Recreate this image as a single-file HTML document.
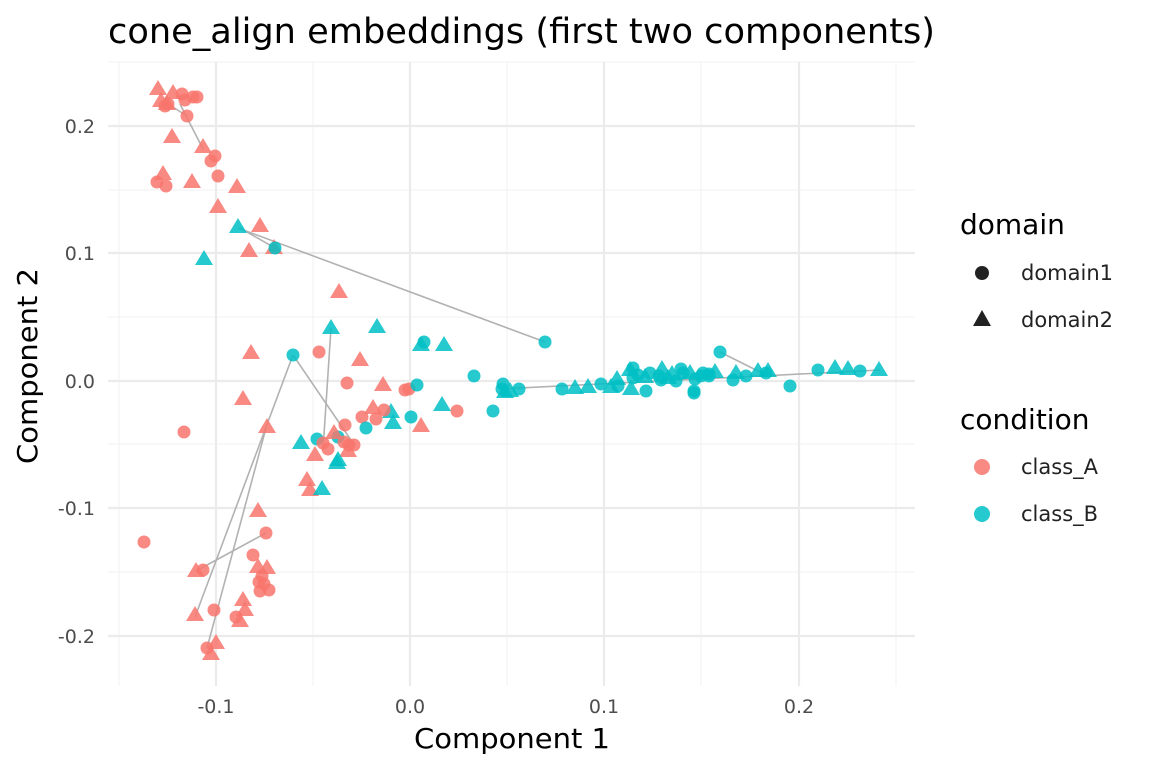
<!DOCTYPE html>
<html><head><meta charset="utf-8"><style>
body{margin:0;background:#fff;}
svg{display:block;font-family:"DejaVu Sans","Liberation Sans",sans-serif;}
</style></head><body>
<svg id="s" width="1152" height="768" viewBox="0 0 1152 768" xmlns="http://www.w3.org/2000/svg">
<rect width="1152" height="768" fill="#fff"/>
<g stroke="#f2f2f2" stroke-width="1.1">
<line x1="119" y1="62" x2="119" y2="686"/><line x1="313" y1="62" x2="313" y2="686"/><line x1="507" y1="62" x2="507" y2="686"/><line x1="701" y1="62" x2="701" y2="686"/><line x1="896" y1="62" x2="896" y2="686"/>
<line x1="108" y1="62" x2="915" y2="62"/><line x1="108" y1="190" x2="915" y2="190"/><line x1="108" y1="317" x2="915" y2="317"/><line x1="108" y1="444" x2="915" y2="444"/><line x1="108" y1="572" x2="915" y2="572"/>
</g>
<g stroke="#ebebeb" stroke-width="2.2">
<line x1="216" y1="62" x2="216" y2="686"/><line x1="410" y1="62" x2="410" y2="686"/><line x1="604" y1="62" x2="604" y2="686"/><line x1="799" y1="62" x2="799" y2="686"/>
<line x1="108" y1="126" x2="915" y2="126"/><line x1="108" y1="253" x2="915" y2="253"/><line x1="108" y1="381" x2="915" y2="381"/><line x1="108" y1="508" x2="915" y2="508"/><line x1="108" y1="636" x2="915" y2="636"/>
</g>
<g stroke="#aaa" stroke-width="1.6" opacity="0.9">
<line x1="168" y1="104" x2="187" y2="116"/><line x1="180" y1="104" x2="203" y2="149"/>
<line x1="238" y1="228" x2="545" y2="342"/><line x1="240" y1="228" x2="275" y2="248"/>
<line x1="293" y1="355" x2="195" y2="617"/><line x1="293" y1="355" x2="355" y2="446"/>
<line x1="331" y1="328" x2="323" y2="450"/><line x1="266" y1="428" x2="207" y2="648"/>
<line x1="266" y1="533" x2="196" y2="571"/>
<line x1="500" y1="389" x2="880" y2="370"/><line x1="720" y1="352" x2="762" y2="373"/>
</g>
<g id="pts"></g>
<text x="108" y="43" font-size="35" fill="#000" textLength="827" lengthAdjust="spacingAndGlyphs">cone_align embeddings (first two components)</text>
<g font-size="19" fill="#4d4d4d" text-anchor="middle">
<text x="216" y="713">-0.1</text><text x="410" y="713">0.0</text><text x="604" y="713">0.1</text><text x="799" y="713">0.2</text>
</g>
<g font-size="19" fill="#4d4d4d" text-anchor="end">
<text x="95" y="133">0.2</text><text x="95" y="260">0.1</text><text x="95" y="388">0.0</text><text x="95" y="515">-0.1</text><text x="95" y="643">-0.2</text>
</g>
<text x="512" y="748" font-size="28" text-anchor="middle" textLength="196" lengthAdjust="spacingAndGlyphs">Component 1</text>
<text transform="translate(37,366) rotate(-90)" font-size="28" text-anchor="middle" textLength="196" lengthAdjust="spacingAndGlyphs">Component 2</text>
<text x="960" y="234" font-size="28">domain</text>
<circle cx="982" cy="273" r="7" fill="#222"/>
<polygon points="982,310 991,326 973,326" fill="#222"/>
<text x="1021" y="280" font-size="21" fill="#222">domain1</text>
<text x="1021" y="327" font-size="21" fill="#222">domain2</text>
<text x="960" y="429" font-size="28">condition</text>
<circle cx="982" cy="467" r="8" fill="#F8766D" opacity="0.85"/>
<circle cx="982" cy="514" r="8" fill="#00BFC4" opacity="0.85"/>
<text x="1021" y="474" font-size="21" fill="#222">class_A</text>
<text x="1021" y="521" font-size="21" fill="#222">class_B</text>
</svg>
<script>
var R="#F8766D",T="#00BFC4";
var P=[
["t",R,158,89],["t",R,173,93],["t",R,161,101],["t",R,167,104],["c",R,182,94],["c",R,193,97],["c",R,197,97],["c",R,185,100],["c",R,168,104],["c",R,165,106],["c",R,187,116],
["t",R,172,137],["t",R,203,147],["c",R,215,156],["c",R,211,161],["c",R,218,176],["c",R,157,182],["c",R,166,186],["t",R,163,174],["t",R,192,182],["t",R,237,187],
["t",R,218,207],["t",R,260,226],["t",R,249,251],["t",R,274,248],["t",T,238,227],["c",T,275,248],["t",T,204,259],
["t",R,339,292],["c",T,293,355],["c",R,319,352],["t",R,251,353],["t",R,360,360],["t",T,331,328],["t",T,377,327],["t",T,421,345],["c",T,424,342],["t",T,444,345],["c",T,545,342],
["c",R,347,383],["t",R,383,385],["c",R,405,390],["c",R,409,389],["c",T,417,385],["t",R,243,399],["c",T,474,376],["c",T,503,384],["c",T,502,389],["t",T,505,392],["t",T,510,391],["c",T,519,389],["c",T,493,411],["c",R,457,411],["t",T,442,405],["t",T,391,412],["t",T,393,423],["c",R,384,410],["t",R,373,408],["c",R,362,417],["c",R,376,419],["c",R,345,425],["c",T,338,437],["t",R,334,433],["c",T,366,428],["t",R,421,426],["c",T,411,417],["c",R,184,432],["t",R,267,427],["t",T,301,443],["c",T,317,439],["c",R,323,443],["c",R,328,449],["t",R,315,455],["c",R,349,445],["c",R,354,445],["c",R,344,442],["t",R,348,451],["t",T,337,463],["t",R,307,480],["t",R,310,490],["t",T,322,489],["t",T,338,460],
["c",T,562,389],["t",T,575,388],["t",T,588,387],["t",T,611,387],["t",T,617,379],["t",T,630,370],["c",T,633,378],["c",T,638,375],["t",T,645,377],["c",T,650,373],["c",T,659,376],["t",T,662,369],["t",T,668,378],["c",T,676,381],["c",T,683,373],["c",T,681,369],["t",T,690,373],["c",T,695,379],["c",T,701,376],["c",T,703,373],["t",T,715,372],["c",T,720,352],["c",T,733,380],["t",T,736,373],["c",T,746,376],["t",T,758,371],["t",T,768,371],["c",T,790,386],["c",T,818,370],["t",T,835,368],["t",T,848,369],["c",T,860,371],["t",T,879,370],["c",T,633,368],["c",T,661,380],["c",T,694,391],["c",T,694,393],["c",T,646,391],["c",T,601,384],["c",T,709,374],["t",T,631,389],["c",T,618,386],["c",T,766,373],["t",T,672,374],["c",T,709,376],
["c",R,144,542],["t",R,258,511],["c",R,266,533],["c",R,253,555],["c",R,203,570],["t",R,196,571],["t",R,258,567],["t",R,267,568],["c",R,262,576],["c",R,259,582],["c",R,264,584],["c",R,269,590],["c",R,260,591],["t",R,243,600],["t",R,245,610],["c",R,236,617],["t",R,240,621],["c",R,214,610],["t",R,195,615],["c",R,207,648],["t",R,216,643],["t",R,211,654]
];
var g=document.getElementById("pts"),h="";
P.forEach(function(p){
 if(p[0]=="c") h+='<circle cx="'+p[2]+'" cy="'+p[3]+'" r="6.5" fill="'+p[1]+'" opacity="0.85"/>';
 else h+='<polygon points="'+p[2]+','+(p[3]-9)+' '+(p[2]+9)+','+(p[3]+6)+' '+(p[2]-9)+','+(p[3]+6)+'" fill="'+p[1]+'" opacity="0.85"/>';
});
g.innerHTML=h;
</script>
</body></html>
